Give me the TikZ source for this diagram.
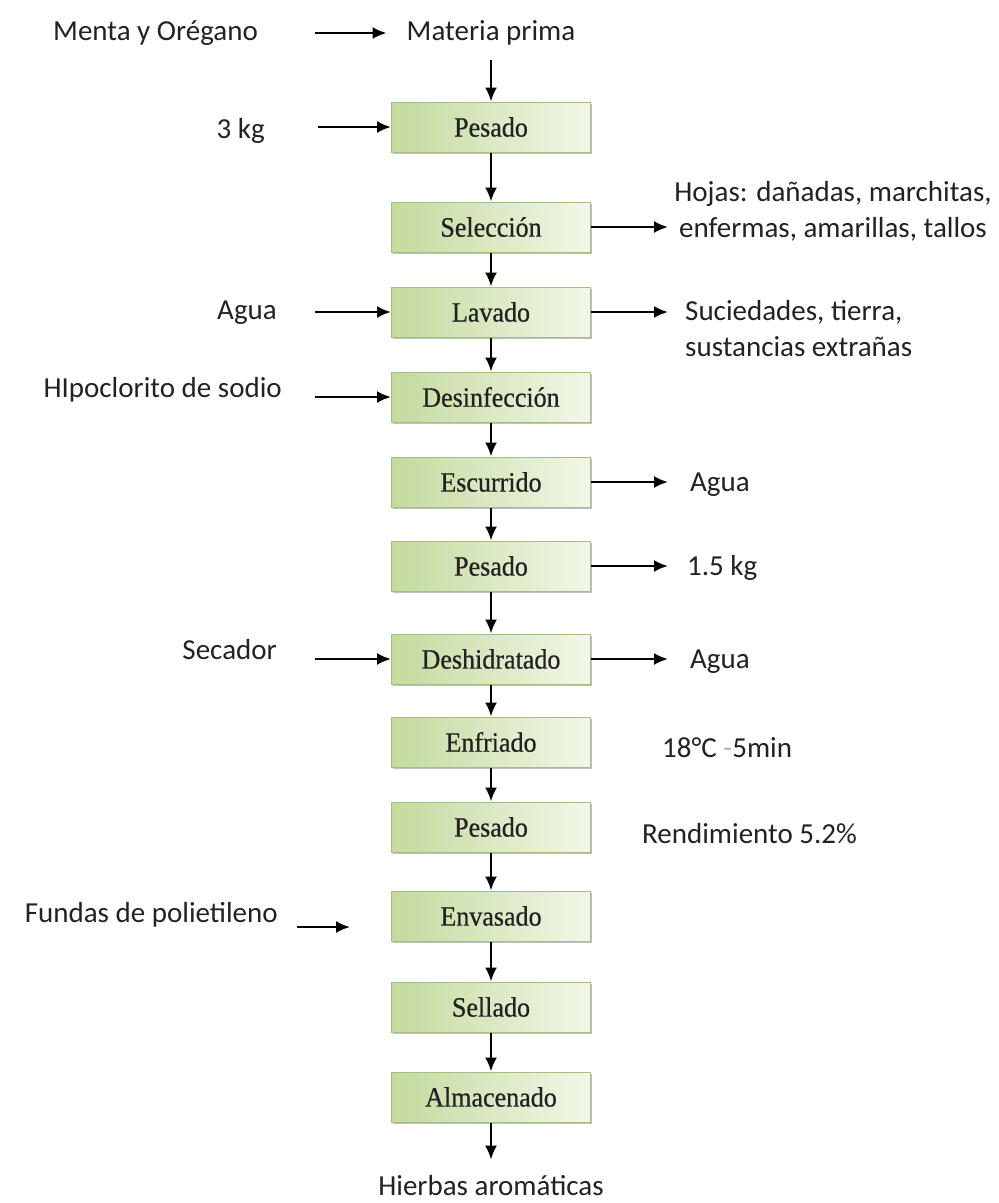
\documentclass[tikz,border=0pt]{standalone}
\usepackage{fontspec}
\setmainfont{Carlito}
\newfontfamily\boxfont[FakeStretch=0.93,FakeBold=0.6]{Liberation Serif}
\usetikzlibrary{arrows.meta,shadows}
\definecolor{ink}{HTML}{222222}
\definecolor{boxL}{HTML}{C3DA9E}
\definecolor{boxR}{HTML}{F2F7E8}
\definecolor{boxEdge}{HTML}{A3BF80}
\begin{document}
\begin{tikzpicture}[x=1pt,y=-1pt,
  stepbox/.style={draw=boxEdge, line width=1pt, left color=boxL, right color=boxR,
    minimum width=199pt, minimum height=50pt, inner sep=0pt,
    font=\boxfont\fontsize{28}{32}\selectfont, text=ink,
    drop shadow={shadow xshift=1.5pt, shadow yshift=-2pt, fill=black!40, opacity=0.6}},
  lbl/.style={font=\fontsize{29}{36}\selectfont, text=ink, inner sep=0pt},
  flow/.style={-{Latex[length=14pt,width=12pt]}, line width=2.2pt, draw=black}]
\useasboundingbox[fill=white] (0,0) rectangle (999,1203);

% process steps
\node[stepbox] (b1)  at (491,127)  {Pesado};
\node[stepbox] (b2)  at (491,227)  {Selección};
\node[stepbox] (b3)  at (491,312)  {Lavado};
\node[stepbox] (b4)  at (491,397)  {Desinfección};
\node[stepbox] (b5)  at (491,482)  {Escurrido};
\node[stepbox] (b6)  at (491,566)  {Pesado};
\node[stepbox] (b7)  at (491,659)  {Deshidratado};
\node[stepbox] (b8)  at (491,742)  {Enfriado};
\node[stepbox] (b9)  at (491,827)  {Pesado};
\node[stepbox] (b10) at (491,916)  {Envasado};
\node[stepbox] (b11) at (491,1007) {Sellado};
\node[stepbox] (b12) at (491,1097) {Almacenado};

% start and end
\node[lbl] (mp) at (491,33) {Materia prima};
\node[lbl, anchor=east] (menta) at (258,33) {Menta y Orégano};
\node[lbl] (hierbas) at (491,1186) {Hierbas aromáticas};

% inputs on the left
\node[lbl, anchor=east] (kg3)   at (265,131) {3 kg};
\node[lbl, anchor=east] (agua1) at (277,313) {Agua};
\node[lbl, anchor=east] (hipo)  at (282,390) {HIpoclorito de sodio};
\node[lbl, anchor=east] (sec)   at (277,650) {Secador};
\node[lbl, anchor=east] (fund)  at (278,915) {Fundas de polietileno};

% outputs and notes on the right
\node[lbl, align=center] (hojas) at (833,211) {Hojas: dañadas, marchitas,\\enfermas, amarillas, tallos};
\node[lbl, align=left, anchor=west] (suc) at (685,329) {Suciedades, tierra,\\sustancias extrañas};
\node[lbl, anchor=west] (agua2) at (690,485) {Agua};
\node[lbl, anchor=west] (kg15)  at (687,568) {1.5 kg};
\node[lbl, anchor=west] (agua3) at (690,662) {Agua};
\node[lbl, anchor=west] (temp)  at (662,748) {18°C \textcolor{gray!60}{-}5min};
\node[lbl, anchor=west] (rend)  at (642,834) {Rendimiento 5.2\%};

% free arrow ends
\coordinate (m0) at (315,33);
\coordinate (i1) at (318,127);
\coordinate (i3) at (315,312);
\coordinate (i4) at (315,397);
\coordinate (i7) at (315,659);
\coordinate (f0) at (297,927);
\coordinate (f1) at (350,927);
\coordinate (o2) at (668,227);
\coordinate (o3) at (668,312);
\coordinate (o5) at (668,482);
\coordinate (o6) at (668,566);
\coordinate (o7) at (668,659);

% main line
\draw[flow, shorten >=20pt] (m0) -- (mp.west);
\draw[flow, shorten <=14pt] (mp.south) -- (b1.north);
\draw[flow] (b1) -- (b2);
\draw[flow] (b2) -- (b3);
\draw[flow] (b3) -- (b4);
\draw[flow] (b4) -- (b5);
\draw[flow] (b5) -- (b6);
\draw[flow] (b6) -- (b7);
\draw[flow] (b7) -- (b8);
\draw[flow] (b8) -- (b9);
\draw[flow] (b9) -- (b10);
\draw[flow] (b10) -- (b11);
\draw[flow] (b11) -- (b12);
\draw[flow, shorten >=16pt] (b12.south) -- (hierbas.north);

% inputs
\draw[flow] (i1) -- (b1.west);
\draw[flow] (i3) -- (b3.west);
\draw[flow] (i4) -- (b4.west);
\draw[flow] (i7) -- (b7.west);
\draw[flow] (f0) -- (f1);

% outputs
\draw[flow] (b2.east) -- (o2);
\draw[flow] (b3.east) -- (o3);
\draw[flow] (b5.east) -- (o5);
\draw[flow] (b6.east) -- (o6);
\draw[flow] (b7.east) -- (o7);
\end{tikzpicture}
\end{document}
